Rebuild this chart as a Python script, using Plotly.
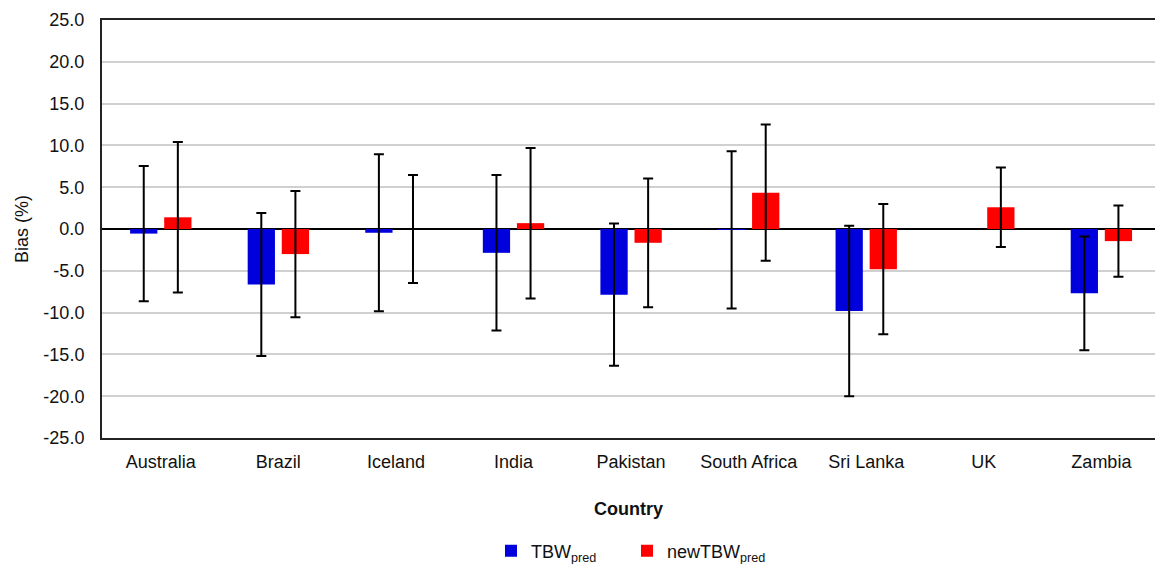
import plotly.graph_objects as go

countries = ["Australia", "Brazil", "Iceland", "India", "Pakistan",
             "South Africa", "Sri Lanka", "UK", "Zambia"]
tbw_pred = [-0.55, -6.65, -0.45, -2.85, -7.85, -0.1, -9.8, None, -7.7]
tbw_pred_err = [8.1, 8.55, 9.4, 9.3, 8.5, 9.4, 10.2, None, 6.8]
new_tbw_pred = [1.4, -3.0, 0.0, 0.7, -1.65, 4.35, -4.8, 2.6, -1.45]
new_tbw_pred_err = [9.0, 7.55, 6.45, 9.0, 7.7, 8.15, 7.8, 4.75, 4.25]
y_ticks = [-25, -20, -15, -10, -5, 0, 5, 10, 15, 20, 25]

FONT = "Liberation Sans, Arial, sans-serif"

fig = go.Figure()
fig.add_trace(go.Bar(
    x=countries, y=tbw_pred, name="TBW<sub>pred</sub>", legend="legend",
    marker=dict(color="#0000DD", line=dict(width=0)),
    error_y=dict(type="data", array=tbw_pred_err, visible=True,
                 color="black", thickness=2, width=5),
))
fig.add_trace(go.Bar(
    x=countries, y=new_tbw_pred, name="newTBW<sub>pred</sub>", legend="legend2",
    marker=dict(color="#FF0000", line=dict(width=0)),
    error_y=dict(type="data", array=new_tbw_pred_err, visible=True,
                 color="black", thickness=2, width=5),
))

legend_common = dict(orientation="h", xref="container", yref="container",
                     xanchor="left", y=13 / 564, yanchor="middle",
                     font=dict(family=FONT, size=18), itemwidth=30,
                     bgcolor="rgba(0,0,0,0)")

fig.update_layout(
    width=1155, height=564,
    margin=dict(l=102, r=0, t=20, b=126, autoexpand=False),
    paper_bgcolor="white", plot_bgcolor="white",
    font=dict(family=FONT, size=18, color="#111111"),
    barmode="group", bargap=0.42, bargroupgap=0.2,
    showlegend=True,
    legend=dict(x=491 / 1155, **legend_common),
    legend2=dict(x=627 / 1155, **legend_common),
)
fig.update_xaxes(
    range=[-0.5, 8.456], automargin=False,
    showline=True, linecolor="#222222", linewidth=2, mirror=True,
    showgrid=False, ticks="", ticklabelstandoff=6,
    title=dict(text="<b>Country</b>", font=dict(family=FONT, size=18), standoff=32),
)
fig.update_yaxes(
    range=[-25, 25], tickvals=y_ticks, automargin=False,
    ticktext=[f"{v:.1f}" for v in y_ticks],
    showline=True, linecolor="#222222", linewidth=2,
    showgrid=True, gridcolor="#D0D0D0", gridwidth=1.5,
    zeroline=True, zerolinecolor="black", zerolinewidth=2,
    ticks="", ticklabelstandoff=12,
    title=dict(text="Bias (%)", font=dict(family=FONT, size=18), standoff=10),
)

post = ("document.body.style.margin='0';document.body.style.padding='0';"
        "document.body.style.overflow='hidden';")
fig.write_html("out.html", post_script=post,
               config={"responsive": False, "displayModeBar": False})
